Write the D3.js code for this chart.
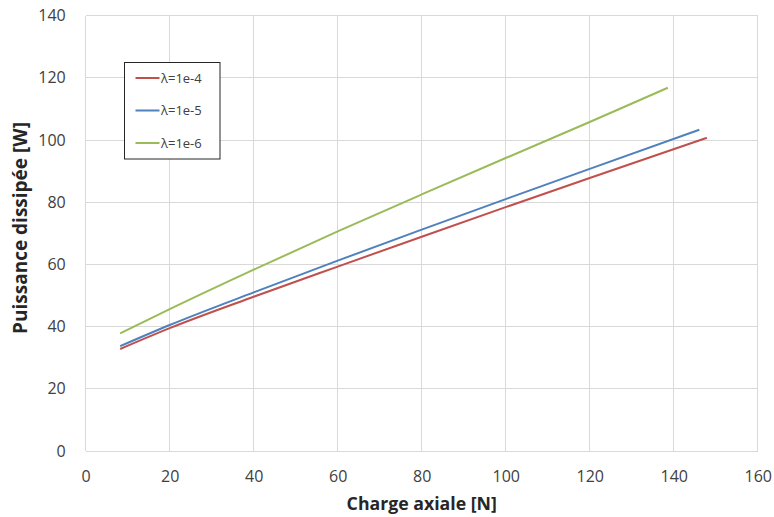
<!DOCTYPE html>
<html><head><meta charset="utf-8">
<script src="https://cdn.jsdelivr.net/npm/d3@7"></script>
<style>body{margin:0;background:#fff}svg{display:block}</style>
</head><body><svg id="c" width="774" height="517"></svg>
<script>
const xTicks = [0,20,40,60,80,100,120,140,160];
const yTicks = [0,20,40,60,80,100,120,140];
const seriesNames = ["λ=1e-4","λ=1e-5","λ=1e-6"];
const seriesColors = ["#c0504d","#4f81bd","#9bbb59"];
const xRed = [8.2,20,40,60,80,100,120,147.9];
const yRed = [32.8,39.5,49.6,59.3,68.9,78.4,87.8,100.7];
const xBlue = [8.2,20,40,60,80,100,120,146.1];
const yBlue = [33.7,40.5,51.0,61.2,71.2,81.0,90.7,103.3];
const xGreen = [8.2,20,40,60,80,100,120,138.6];
const yGreen = [37.8,45.6,58.3,70.6,82.5,94.2,105.8,116.8];
const xTitle = "Charge axiale [N]";
const yTitle = "Puissance dissipée [W]";

const svg = d3.select("#c");
const x = d3.scaleLinear().domain([0,160]).range([85.7,757.7]);
const y = d3.scaleLinear().domain([0,140]).range([451,15.6]);
const font = "'Open Sans', sans-serif";

// gridlines
svg.append("g").selectAll("line").data(yTicks).join("line")
  .attr("x1",x(0)).attr("x2",x(160)).attr("y1",d=>y(d)).attr("y2",d=>y(d))
  .attr("stroke","#d9d9d9").attr("stroke-width",1).attr("shape-rendering","crispEdges");
svg.append("g").selectAll("line").data(xTicks).join("line")
  .attr("y1",y(0)).attr("y2",y(140)).attr("x1",d=>x(d)).attr("x2",d=>x(d))
  .attr("stroke","#d9d9d9").attr("stroke-width",1).attr("shape-rendering","crispEdges");

// axes via d3 axis (labels only)
const gx = svg.append("g").attr("transform",`translate(0,${y(0)})`)
  .call(d3.axisBottom(x).tickValues(xTicks).tickSize(0).tickPadding(20));
const gy = svg.append("g").attr("transform",`translate(${x(0)},0)`)
  .call(d3.axisLeft(y).tickValues(yTicks).tickSize(0).tickPadding(20));
[gx,gy].forEach(g=>{
  g.select(".domain").remove();
  g.selectAll("text").attr("font-family",font).attr("font-size",16).attr("fill","#404040");
});

// series
const line = d3.line().x(d=>x(d[0])).y(d=>y(d[1])).curve(d3.curveMonotoneX);
const series = [[xRed,yRed],[xBlue,yBlue],[xGreen,yGreen]];
series.forEach((s,i)=>{
  const pts = s[0].map((v,j)=>[v,s[1][j]]);
  svg.append("path").datum(pts).attr("d",line).attr("fill","none")
    .attr("stroke",seriesColors[i]).attr("stroke-width",2);
});

// legend
const lg = svg.append("g");
lg.append("rect").attr("x",124.5).attr("y",62.5).attr("width",95.5).attr("height",96.5)
  .attr("fill","#fff").attr("stroke","#262626").attr("stroke-width",1);
const ly = [78,110.5,143];
seriesNames.forEach((n,i)=>{
  lg.append("line").attr("x1",135.5).attr("x2",159.5).attr("y1",ly[i]).attr("y2",ly[i])
    .attr("stroke",seriesColors[i]).attr("stroke-width",2);
  lg.append("text").attr("x",161).attr("y",ly[i]).attr("dy","0.35em")
    .attr("font-family",font).attr("font-size",13).attr("fill","#404040").text(n);
});

// titles
svg.append("text").attr("x",421.7).attr("y",510).attr("text-anchor","middle")
  .attr("font-family",font).attr("font-size",17.7).attr("font-weight","bold").attr("fill","#262626").text(xTitle);
svg.append("text").attr("transform","translate(27,228) rotate(-90)").attr("text-anchor","middle")
  .attr("font-family",font).attr("font-size",19).attr("font-weight","bold").attr("fill","#262626").text(yTitle);
</script></body></html>
